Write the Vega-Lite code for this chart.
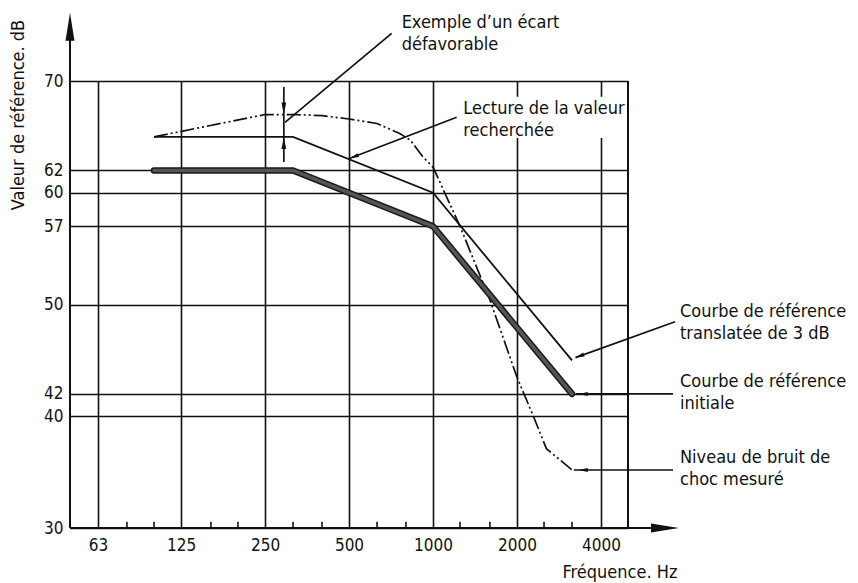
{
  "$schema": "https://vega.github.io/schema/vega-lite/v6.json",
  "width": 558,
  "height": 447,
  "autosize": {"type": "none"},
  "padding": {"left": 70, "top": 81, "right": 230, "bottom": 55},
  "background": "#ffffff",
  "config": {
    "view": {"stroke": null},
    "font": "DejaVu Sans Condensed, DejaVu Sans",
    "axis": {
      "labelFont": "DejaVu Sans Condensed, DejaVu Sans",
      "titleFont": "DejaVu Sans Condensed, DejaVu Sans",
      "labelFontSize": 17,
      "titleFontSize": 18,
      "titleFontWeight": "normal",
      "labelColor": "#111111",
      "titleColor": "#111111",
      "gridColor": "#111111",
      "gridWidth": 1.6,
      "gridOpacity": 1,
      "ticks": false,
      "domain": false
    }
  },
  "datasets": {
    "reference": [
      {"f": 100, "db": 62}, {"f": 315, "db": 62}, {"f": 1000, "db": 57}, {"f": 3150, "db": 42}
    ],
    "shifted": [
      {"f": 100, "db": 65}, {"f": 315, "db": 65}, {"f": 1000, "db": 60}, {"f": 3150, "db": 45}
    ],
    "measured": [
      {"f": 100, "db": 65}, {"f": 250, "db": 67}, {"f": 315, "db": 67}, {"f": 400, "db": 66.9},
      {"f": 500, "db": 66.6}, {"f": 630, "db": 66.2}, {"f": 760, "db": 65.3}, {"f": 830, "db": 64.7},
      {"f": 920, "db": 63.2}, {"f": 1000, "db": 62.3}, {"f": 1250, "db": 57}, {"f": 1600, "db": 50.4},
      {"f": 2000, "db": 43.5}, {"f": 2290, "db": 40}, {"f": 2550, "db": 37.1}, {"f": 3150, "db": 35.2}
    ],
    "frame": [
      {"f": 50, "db": 30, "f2": 50, "db2": 74},
      {"f": 50, "db": 30, "f2": 6100, "db2": 30},
      {"f": 5000, "db": 30, "f2": 5000, "db2": 70}
    ],
    "thirdOctaves": [
      {"f": 80}, {"f": 100}, {"f": 160}, {"f": 200}, {"f": 315}, {"f": 400},
      {"f": 630}, {"f": 800}, {"f": 1250}, {"f": 1600}, {"f": 2500}, {"f": 3150}
    ],
    "leaders": [
      {"f": 711, "db": 74.27, "f2": 294.8, "db2": 66.29},
      {"f": 1216, "db": 66.75, "f2": 504, "db2": 63.08},
      {"f": 7370, "db": 48.46, "f2": 3240, "db2": 45.25},
      {"f": 7250, "db": 42, "f2": 3250, "db2": 42},
      {"f": 7250, "db": 35.19, "f2": 3200, "db2": 35.19},
      {"f": 292, "db": 69.46, "f2": 292, "db2": 62.75}
    ],
    "notes": [
      {"f": 772, "db": 74.72, "label": "Exemple d’un écart\ndéfavorable"},
      {"f": 1284, "db": 67.05, "label": "Lecture de la valeur\nrecherchée"},
      {"f": 7680, "db": 48.91, "label": "Courbe de référence\ntranslatée de 3 dB"},
      {"f": 7680, "db": 42.64, "label": "Courbe de référence\ninitiale"},
      {"f": 7680, "db": 35.82, "label": "Niveau de bruit de\nchoc mesuré"}
    ]
  },
  "layer": [
    {
      "data": {"name": "frame"},
      "mark": {"type": "rule", "color": "#111111", "strokeWidth": 2},
      "encoding": {
        "x": {
          "field": "f", "type": "quantitative",
          "scale": {"type": "log", "domain": [50, 5000], "nice": false},
          "axis": {
            "values": [63, 125, 250, 500, 1000, 2000, 4000],
            "format": "d", "grid": true, "labelPadding": 9,
            "labelFlush": false, "labelOverlap": false,
            "title": "Fréquence. Hz", "titleX": 549.5, "titleY": 49,
            "titleAlign": "center", "titleBaseline": "alphabetic"
          }
        },
        "x2": {"field": "f2"},
        "y": {
          "field": "db", "type": "quantitative",
          "scale": {"domain": [30, 70], "nice": false, "zero": false},
          "axis": {
            "values": [30, 40, 42, 50, 57, 60, 62, 70],
            "grid": true, "labelPadding": 7,
            "labelFlush": false, "labelOverlap": false,
            "title": "Valeur de référence. dB", "titleAngle": 270,
            "titleX": -46.5, "titleY": 33.5,
            "titleAlign": "center", "titleBaseline": "alphabetic"
          }
        },
        "y2": {"field": "db2"}
      }
    },
    {
      "data": {"name": "thirdOctaves"},
      "mark": {"type": "rule", "color": "#111111", "strokeWidth": 1.6},
      "encoding": {
        "x": {"field": "f", "type": "quantitative"},
        "y": {"datum": 30},
        "y2": {"datum": 30.55}
      }
    },
    {
      "data": {"values": [{"f": 50, "db": 76.1}]},
      "mark": {"type": "point", "shape": "M0,0L0.32,2L-0.32,2Z", "size": 784, "filled": true, "color": "#111111", "opacity": 1, "strokeWidth": 0, "angle": 0},
      "encoding": {"x": {"field": "f", "type": "quantitative"}, "y": {"field": "db", "type": "quantitative"}}
    },
    {
      "data": {"values": [{"f": 7616, "db": 30}]},
      "mark": {"type": "point", "shape": "M0,0L0.32,2L-0.32,2Z", "size": 784, "filled": true, "color": "#111111", "opacity": 1, "strokeWidth": 0, "angle": 90},
      "encoding": {"x": {"field": "f", "type": "quantitative"}, "y": {"field": "db", "type": "quantitative"}}
    },
    {
      "data": {"values": [{"f": 1230, "f2": 4760, "db": 68.6, "db2": 64.9}]},
      "mark": {"type": "rect", "color": "#ffffff", "opacity": 1},
      "encoding": {
        "x": {"field": "f", "type": "quantitative"}, "x2": {"field": "f2"},
        "y": {"field": "db", "type": "quantitative"}, "y2": {"field": "db2"}
      }
    },
    {
      "data": {"name": "measured"},
      "mark": {"type": "line", "color": "#111111", "strokeWidth": 1.7, "strokeDash": [14, 3, 2, 3, 2, 3]},
      "encoding": {"x": {"field": "f", "type": "quantitative"}, "y": {"field": "db", "type": "quantitative"}}
    },
    {
      "data": {"name": "shifted"},
      "mark": {"type": "line", "color": "#111111", "strokeWidth": 1.8},
      "encoding": {"x": {"field": "f", "type": "quantitative"}, "y": {"field": "db", "type": "quantitative"}}
    },
    {
      "data": {"name": "reference"},
      "mark": {"type": "line", "color": "#1a1a1a", "strokeWidth": 6.5, "strokeCap": "round", "strokeJoin": "round"},
      "encoding": {"x": {"field": "f", "type": "quantitative"}, "y": {"field": "db", "type": "quantitative"}}
    },
    {
      "data": {"name": "reference"},
      "mark": {"type": "line", "color": "#555555", "strokeWidth": 3.5, "strokeCap": "round", "strokeJoin": "round"},
      "encoding": {"x": {"field": "f", "type": "quantitative"}, "y": {"field": "db", "type": "quantitative"}}
    },
    {
      "data": {"name": "leaders"},
      "mark": {"type": "rule", "color": "#111111", "strokeWidth": 1.7},
      "encoding": {
        "x": {"field": "f", "type": "quantitative"}, "x2": {"field": "f2"},
        "y": {"field": "db", "type": "quantitative"}, "y2": {"field": "db2"}
      }
    },
    {
      "data": {"values": [{"f": 504, "db": 63.08}]},
      "mark": {"type": "point", "shape": "M0,0L0.45,2L-0.45,2Z", "size": 81, "filled": true, "color": "#111111", "opacity": 1, "strokeWidth": 0, "angle": 249},
      "encoding": {"x": {"field": "f", "type": "quantitative"}, "y": {"field": "db", "type": "quantitative"}}
    },
    {
      "data": {"values": [{"f": 3240, "db": 45.25}]},
      "mark": {"type": "point", "shape": "M0,0L0.45,2L-0.45,2Z", "size": 81, "filled": true, "color": "#111111", "opacity": 1, "strokeWidth": 0, "angle": 250},
      "encoding": {"x": {"field": "f", "type": "quantitative"}, "y": {"field": "db", "type": "quantitative"}}
    },
    {
      "data": {"values": [{"f": 3330, "db": 42}, {"f": 3330, "db": 35.19}]},
      "mark": {"type": "point", "shape": "M0,0L0.45,2L-0.45,2Z", "size": 81, "filled": true, "color": "#111111", "opacity": 1, "strokeWidth": 0, "angle": 270},
      "encoding": {"x": {"field": "f", "type": "quantitative"}, "y": {"field": "db", "type": "quantitative"}}
    },
    {
      "data": {"values": [{"f": 292, "db": 67}]},
      "mark": {"type": "point", "shape": "M0,0L0.4,2L-0.4,2Z", "size": 144, "filled": true, "color": "#111111", "opacity": 1, "strokeWidth": 0, "angle": 180},
      "encoding": {"x": {"field": "f", "type": "quantitative"}, "y": {"field": "db", "type": "quantitative"}}
    },
    {
      "data": {"values": [{"f": 292, "db": 65}]},
      "mark": {"type": "point", "shape": "M0,0L0.4,2L-0.4,2Z", "size": 144, "filled": true, "color": "#111111", "opacity": 1, "strokeWidth": 0, "angle": 0},
      "encoding": {"x": {"field": "f", "type": "quantitative"}, "y": {"field": "db", "type": "quantitative"}}
    },
    {
      "data": {"name": "notes"},
      "mark": {"type": "text", "align": "left", "baseline": "alphabetic", "lineBreak": "\n", "lineHeight": 22, "fontSize": 18, "font": "DejaVu Sans Condensed, DejaVu Sans", "color": "#111111"},
      "encoding": {
        "x": {"field": "f", "type": "quantitative"},
        "y": {"field": "db", "type": "quantitative"},
        "text": {"field": "label"}
      }
    }
  ]
}
